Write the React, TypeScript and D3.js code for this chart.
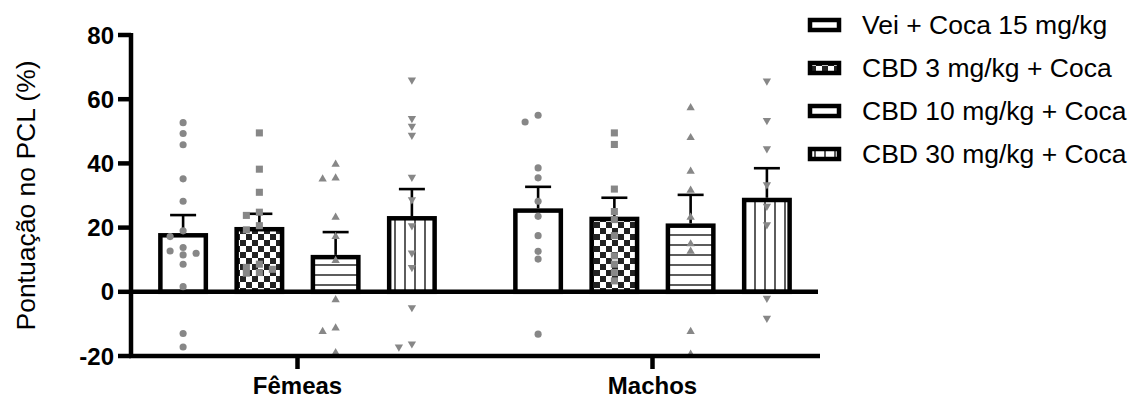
import React from "react";
import * as d3 from "d3";

// categories and series
const groups = ["Fêmeas", "Machos"];
const seriesNames = [
  "Vei + Coca 15 mg/kg",
  "CBD 3 mg/kg + Coca",
  "CBD 10 mg/kg + Coca",
  "CBD 30 mg/kg + Coca",
];
const yTicks = [-20, 0, 20, 40, 60, 80];

// bar heights (mean) and SEM, per group, in series order
const meanFemeas = [18.3, 20.2, 11.5, 23.6];
const meanMachos = [26, 23.4, 21.3, 29.3];
const semFemeas = [5.6, 4.1, 7.1, 8.4];
const semMachos = [6.7, 5.9, 8.9, 9.2];

// individual scores
const femeasVei = [52.7, 49.3, 45.8, 35.2, 28.2, 19, 17.2, 13.8, 12.7, 12, 11.5, 8.6, 1.6, -13, -17.2];
const femeasCbd3 = [49.5, 38.2, 31, 24.8, 23.8, 20.6, 19.3, 8.6, 7.6, 7, 6, 5.8];
const femeasCbd10 = [39.7, 35.4, 35.1, 23.2, 17.2, 9.7, -2.5, -11.3, -12.4, -19];
const femeasCbd30 = [66, 54, 51.6, 48.8, 35.7, 28.7, 20.6, 12.1, 7.6, -4.9, -16.2, -17.2];
const machosVei = [55, 52.9, 38.6, 35.5, 28.2, 23.5, 17.5, 12.6, 10.2, -13.2];
const machosCbd3 = [49.5, 45.9, 32, 25, 22.5, 17.5, 11.2, 8.6, 6, 3.4];
const machosCbd10 = [57.3, 48, 37.5, 31.6, 23.2, 14.9, 12.6, -12.4, -19.5];
const machosCbd30 = [65.7, 53.4, 44.6, 33.4, 26.7, 20.9, -2, -8.2];

const means = [meanFemeas, meanMachos];
const sems = [semFemeas, semMachos];
const points = [
  [femeasVei, femeasCbd3, femeasCbd10, femeasCbd30],
  [machosVei, machosCbd3, machosCbd10, machosCbd30],
];

const W = 1142;
const H = 398;
const FONT = "'Liberation Sans', Arial, Helvetica, sans-serif";
const fills = ["#fff", "url(#checker)", "url(#hlines)", "url(#vlines)"];
const symbols = [d3.symbolCircle, d3.symbolSquare, d3.symbolTriangle, d3.symbolTriangle];
const dotColor = "#878787";

// simple column scatter: top to bottom, shift a point sideways when it would sit on another
function swarm(vals: number[], y: (v: number) => number, step: number) {
  const placed: { v: number; dx: number }[] = [];
  const cols = [0, -1, 1];
  const sorted = [...vals].sort((a, b) => b - a);
  for (const v of sorted) {
    let best = 0;
    let bestGap = -1;
    for (const k of cols) {
      const gap = d3.min(
        placed.filter((p) => p.dx === k * step),
        (p) => Math.abs(y(p.v) - y(v))
      ) ?? Infinity;
      if (gap >= 7) { best = k * step; bestGap = gap; break; }
      if (gap > bestGap) { best = k * step; bestGap = gap; }
    }
    placed.push({ v, dx: best });
  }
  return placed;
}

export default function App() {
  const axisX = 131;
  const axisRight = 819;

  const y = d3.scaleLinear().domain([-20, 80]).range([356, 35]);
  const x0 = d3.scaleBand().domain(groups).range([120, 830]);
  const x1 = d3
    .scaleBand()
    .domain(seriesNames)
    .range([0, x0.bandwidth()])
    .paddingInner(0.345)
    .paddingOuter(0.5);
  const bw = x1.bandwidth();
  const sw = 4.5;

  return (
    <svg
      width={W}
      height={H}
      style={{ position: "absolute", left: 0, top: 0, display: "block", background: "#fff" }}
      fontFamily={FONT}
    >
      <defs>
        <pattern id="checker" patternUnits="userSpaceOnUse" width={12} height={12}>
          <rect width={12} height={12} fill="#fff" />
          <rect width={6} height={6} fill="#222" />
          <rect x={6} y={6} width={6} height={6} fill="#222" />
        </pattern>
        <pattern id="hlines" patternUnits="userSpaceOnUse" width={10} height={10}>
          <rect width={10} height={10} fill="#fff" />
          <line x1={0} x2={10} y1={5} y2={5} stroke="#333" strokeWidth={1.6} />
        </pattern>
        <pattern id="vlines" patternUnits="userSpaceOnUse" width={10} height={10}>
          <rect width={10} height={10} fill="#fff" />
          <line x1={5} x2={5} y1={0} y2={10} stroke="#333" strokeWidth={1.6} />
        </pattern>
      </defs>

      {/* bars */}
      {groups.map((g, gi) =>
        seriesNames.map((s, si) => {
          const left = (x0(g) as number) + (x1(s) as number);
          const top = y(means[gi][si]);
          return (
            <rect
              key={g + s}
              x={left + sw / 2}
              y={top + sw / 2}
              width={bw - sw}
              height={y(0) - top - sw / 2}
              fill={fills[si]}
              stroke="#000"
              strokeWidth={sw}
            />
          );
        })
      )}

      {/* error bars (upper only) */}
      {groups.map((g, gi) =>
        seriesNames.map((s, si) => {
          const cx = (x0(g) as number) + (x1(s) as number) + bw / 2;
          const m = means[gi][si];
          const e = m + sems[gi][si];
          return (
            <g key={"e" + g + s} stroke="#000" strokeWidth={2.6}>
              <line x1={cx} x2={cx} y1={y(m)} y2={y(e)} />
              <line x1={cx - 13} x2={cx + 13} y1={y(e)} y2={y(e)} />
            </g>
          );
        })
      )}

      {/* zero line */}
      <line x1={axisX} x2={axisRight - 1} y1={y(0)} y2={y(0)} stroke="#000" strokeWidth={4.5} />

      {/* individual points */}
      {groups.map((g, gi) =>
        seriesNames.map((s, si) => {
          const cx = (x0(g) as number) + (x1(s) as number) + bw / 2;
          const sym = d3.symbol().type(symbols[si]).size(si === 0 ? 40 : si === 1 ? 50 : 30);
          return swarm(points[gi][si], y, 13).map((p, pi) => (
            <path
              key={`p${gi}-${si}-${pi}`}
              d={sym() as string}
              fill={dotColor}
              transform={`translate(${cx + p.dx},${y(p.v)})${si === 3 ? " rotate(180)" : ""}`}
            />
          ));
        })
      )}

      {/* y axis */}
      <line x1={axisX} x2={axisX} y1={y(80) - 2} y2={y(-20) + 2} stroke="#000" strokeWidth={4.5} />
      {yTicks.map((t) => (
        <g key={t}>
          <line x1={axisX - 13} x2={axisX} y1={y(t)} y2={y(t)} stroke="#000" strokeWidth={4.5} />
          <text
            x={axisX - 17}
            y={y(t)}
            textAnchor="end"
            dominantBaseline="central"
            fontWeight="bold"
            fontSize={24}
          >
            {t}
          </text>
        </g>
      ))}
      <text
        transform={`translate(26,${(y(80) + y(-20)) / 2}) rotate(-90)`}
        textAnchor="middle"
        dominantBaseline="central"
        fontSize={26.5}
      >
        Pontuação no PCL (%)
      </text>

      {/* x axis */}
      <line x1={axisX - 2} x2={axisRight + 1} y1={y(-20)} y2={y(-20)} stroke="#000" strokeWidth={4.5} />
      {groups.map((g) => {
        const cx = (x0(g) as number) + x0.bandwidth() / 2;
        return (
          <g key={g}>
            <line x1={cx} x2={cx} y1={y(-20)} y2={y(-20) + 13} stroke="#000" strokeWidth={4.5} />
            <text x={cx} y={394} textAnchor="middle" fontWeight="bold" fontSize={24}>
              {g}
            </text>
          </g>
        );
      })}

      {/* legend */}
      {seriesNames.map((s, si) => {
        const cy = 25 + si * 43;
        return (
          <g key={"l" + s}>
            <rect x={810} y={cy - 5} width={29} height={10} fill={fills[si]} stroke="#000" strokeWidth={4.5} />
            <text x={862} y={cy} dominantBaseline="central" fontSize={26.5}>
              {s}
            </text>
          </g>
        );
      })}
    </svg>
  );
}
